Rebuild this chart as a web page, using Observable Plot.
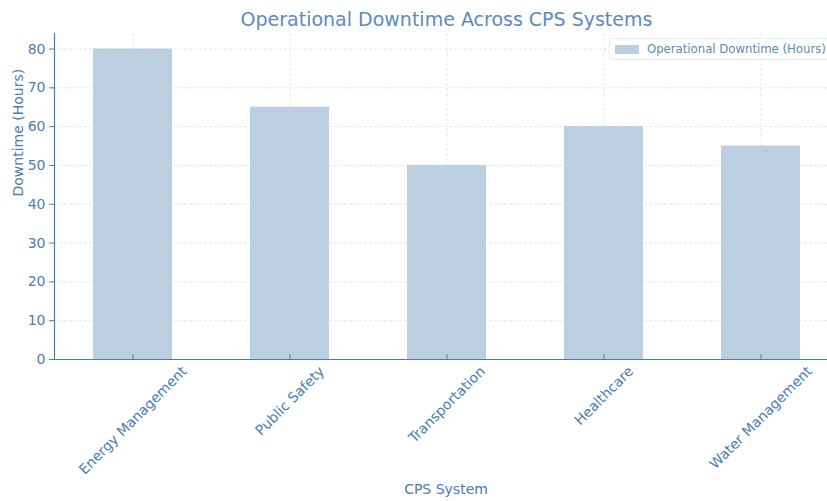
<!DOCTYPE html>
<html><head><meta charset="utf-8">
<script src="https://cdn.jsdelivr.net/npm/d3@7"></script>
<script src="https://cdn.jsdelivr.net/npm/@observablehq/plot@0.6"></script>
<style>
body{margin:0;background:#fff;font-family:"DejaVu Sans",sans-serif;}
#wrap{position:relative;width:827px;height:501px;overflow:hidden;}
#title{position:absolute;left:54px;width:785px;top:8px;text-align:center;font-size:19px;color:#5b8bc0;}
#legend{position:absolute;left:609px;top:38px;width:232px;height:22px;border:1px solid #e3ebf3;border-radius:3px;background:#fff;font-size:11.7px;color:#5a8abf;display:flex;align-items:center;box-sizing:border-box;}
#legend .sw{width:24px;height:9px;background:#bccfe0;margin-left:5px;margin-right:8px;}
svg{position:absolute;left:0;top:0;}
</style></head><body>
<div id="wrap">
<div id="title">Operational Downtime Across CPS Systems</div>
</div>
<script>
const categories = ["Energy Management","Public Safety","Transportation","Healthcare","Water Management"];
const downtime = [80, 65, 50, 60, 55];
const yTicks = [0,10,20,30,40,50,60,70,80];
const seriesName = "Operational Downtime (Hours)";

const data = categories.map((c,i)=>({system:c, hours:downtime[i]}));
const ink = "#4a7cb5";
const grid = "#d6e2ef";
const tickFont = 14;

// measure label widths to centre rotated labels like the reference
const ctx = document.createElement("canvas").getContext("2d");
ctx.font = tickFont + "px 'DejaVu Sans'";
const labelMarks = categories.map(c => {
  const w = ctx.measureText(c).width;
  const half = (w + tickFont * 1.1) * Math.SQRT1_2 / 2;
  return Plot.text([c], {x: d=>d, y: ()=>0, text: d=>d, rotate: -45, textAnchor: "middle", lineAnchor: "middle", dy: 4 + half, fill: ink, fontSize: tickFont});
});

const chart = Plot.plot({
  width: 827, height: 501,
  marginTop: 33, marginBottom: 142, marginLeft: 54, marginRight: 0,
  style: {fontFamily: "DejaVu Sans, sans-serif", fontSize: "13px", color: ink, background: "transparent"},
  x: {domain: categories, range: [54, 839], paddingInner: 0.5, paddingOuter: 0.25, align: 0.5, axis: null},
  y: {domain: [0, 84]},
  marks: [
    Plot.gridY(yTicks, {stroke: grid, strokeOpacity: 1, strokeDasharray: "3,2", strokeWidth: 0.8}),
    Plot.gridX(categories, {stroke: grid, strokeOpacity: 1, strokeDasharray: "3,2", strokeWidth: 0.8}),
    Plot.barY(data, {x: "system", y: "hours", fill: "#bccfe0"}),
    Plot.ruleX(categories, {x: d=>d, y1: 0, y2: 1.2, stroke: ink, strokeWidth: 1}),
    Plot.axisY(yTicks, {tickSize: 5, tickPadding: 4, stroke: ink, fill: ink, label: null, fontSize: tickFont}),
    ...labelMarks,
    Plot.frame({anchor: "left", stroke: ink, strokeWidth: 1.2}),
    Plot.ruleY([0], {stroke: ink, strokeWidth: 1.2}),
    Plot.text(["Downtime (Hours)"], {frameAnchor: "left", dx: -36, rotate: -90, fill: ink, fontSize: 14}),
    Plot.text(["CPS System"], {frameAnchor: "bottom", dx: 5, dy: 134, fill: ink, fontSize: 14})
  ]
});
const wrap = document.getElementById("wrap");
wrap.insertBefore(chart, wrap.firstChild);
const lg = document.createElement("div");
lg.id = "legend";
lg.innerHTML = '<div class="sw"></div><span></span>';
lg.querySelector("span").textContent = seriesName;
wrap.appendChild(lg);
</script>
</body></html>
